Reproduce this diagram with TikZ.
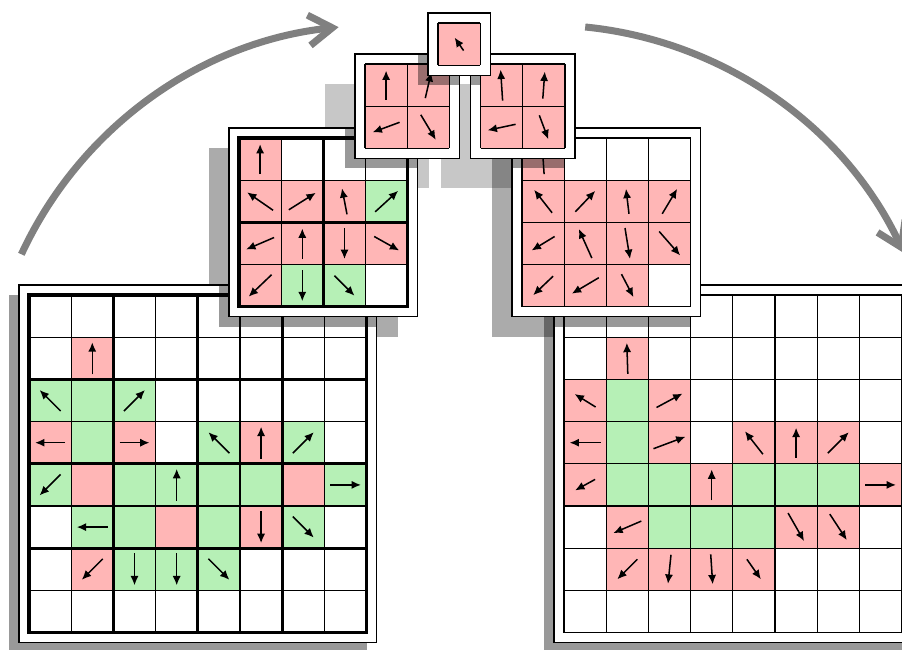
\documentclass[tikz,border=0pt]{standalone}
\usepackage{tikz}
\usetikzlibrary{arrows.meta}
\definecolor{cellpink}{RGB}{255,182,182}
\definecolor{cellgreen}{RGB}{182,240,182}
\definecolor{arcgray}{RGB}{128,128,128}
\newcommand{\cellsz}{42.2}
\tikzset{
  framebox/.style={draw=black, fill=white, line width=1.1pt},
  thinline/.style={draw=black, line width=1.1pt},
  thickline/.style={draw=black, line width=2.6pt},
  vec/.style={-{Latex[length=8pt,width=7pt]}, line width=1.3pt, black},
  shadow1/.style={fill=black, fill opacity=0.4},
  shadow2/.style={fill=black, fill opacity=0.33},
  shadow3/.style={fill=black, fill opacity=0.22},
  shadow4/.style={fill=black, fill opacity=0.15},
  bigarc/.style={draw=arcgray, line width=6pt,
    -{Straight Barb[length=20pt,width=26pt]}},
}
% layer helpers: #1,#2 = top left corner of the cells, #3 = cells per side
\newcommand{\layerframe}[3]{%
  \filldraw[framebox] ({#1-10},{#2-10}) rectangle ++({#3*\cellsz+20},{#3*\cellsz+20});}
\newcommand{\layershadow}[5]{% #4 = height above the surface, #5 = style
  \fill[#5] ({#1-10-10*#4},{#2-10+10*#4}) rectangle ++({#3*\cellsz+20},{#3*\cellsz+20});}
\newcommand{\layercells}[4]{%
  \foreach \gc/\gr in {#4}
    \fill[#3] ({#1+\gc*\cellsz},{#2+\gr*\cellsz}) rectangle ++(\cellsz,\cellsz);}
\newcommand{\layerlines}[3]{%
  \foreach \i in {0,...,#3} {
    \draw[thinline] ({#1+\i*\cellsz},#2) -- ++(0,{#3*\cellsz});
    \draw[thinline] (#1,{#2+\i*\cellsz}) -- ++({#3*\cellsz},0);}}
\newcommand{\layerbold}[4]{%
  \foreach \i in {#4} {
    \draw[thickline] ({#1+\i*\cellsz},#2) -- ++(0,{#3*\cellsz});
    \draw[thickline] (#1,{#2+\i*\cellsz}) -- ++({#3*\cellsz},0);}
  \draw[thickline] (#1,#2) rectangle ++({#3*\cellsz},{#3*\cellsz});}
\newcommand{\layerarrows}[3]{%
  \foreach \gc/\gr/\dx/\dy in {#3}
    \draw[vec] ({#1+(\gc+0.5)*\cellsz-0.5*(\dx)},{#2+(\gr+0.5)*\cellsz-0.5*(\dy)})
      -- ++(\dx,\dy);}

\begin{document}
\begin{tikzpicture}[x=0.3mm, y=-0.3mm]

  \useasboundingbox (0,0) rectangle (902,650);
  \clip (0,0) rectangle (902,650);
  \fill[white] (0,0) rectangle (902,650);

  %% ── Shadows on the ground ──
  \layershadow{29}{295}{8}{1}{shadow1}
  \layershadow{564}{295}{8}{1}{shadow1}
  \layershadow{239}{138}{4}{2}{shadow2}
  \layershadow{522}{138}{4}{2}{shadow2}
  \layershadow{365}{64}{2}{3}{shadow3}
  \layershadow{480.5}{64}{2}{3}{shadow3}
  \layershadow{438}{23}{1}{4}{shadow4}

  %% ── Left input (8x8) ──
  \layerframe{29}{295}{8}
  \layercells{29}{295}{cellpink}{1/1, 0/3, 2/3, 5/3, 1/4, 6/4, 3/5, 5/5, 1/6}
  \layercells{29}{295}{cellgreen}{0/2, 1/2, 2/2, 1/3, 4/3, 6/3, 0/4, 2/4, 3/4,
    4/4, 5/4, 7/4, 1/5, 2/5, 4/5, 6/5, 2/6, 3/6, 4/6}
  \layerlines{29}{295}{8}
  \layerbold{29}{295}{8}{2,4,6}
  \layerarrows{29}{295}{1/1/0/-32, 0/2/-21/-21, 2/2/21/-21, 0/3/-30/0,
    2/3/30/0, 4/3/-21/-21, 5/3/0/-32, 6/3/21/-21, 0/4/-21/21, 3/4/0/-32,
    7/4/31/0, 1/5/-31/0, 5/5/0/32, 6/5/21/21, 1/6/-21/21, 2/6/0/32,
    3/6/0/32, 4/6/21/21}

  %% ── Right output (8x8) ──
  \layerframe{564}{295}{8}
  \layercells{564}{295}{cellpink}{1/1, 0/2, 2/2, 0/3, 2/3, 4/3, 5/3, 6/3,
    0/4, 3/4, 7/4, 1/5, 5/5, 6/5, 1/6, 2/6, 3/6, 4/6}
  \layercells{564}{295}{cellgreen}{1/2, 1/3, 1/4, 2/4, 4/4, 5/4, 6/4,
    2/5, 3/5, 4/5}
  \layerlines{564}{295}{8}
  \layerarrows{564}{295}{1/1/-1/-31, 0/2/-21/-13, 2/2/26/-14, 0/3/-31/0,
    2/3/32/-12, 4/3/-18/-23, 5/3/0/-30, 6/3/21/-21, 0/4/-20/11, 3/4/0/-31,
    7/4/31/0, 1/5/-28/12, 5/5/16/28, 6/5/17/26, 1/6/-20/20, 2/6/-3/29,
    3/6/2/30, 4/6/14/20}

  %% ── Shadows on the 8x8 layers ──
  \begin{scope}
    \clip (19,285) rectangle ++({8*\cellsz+20},{8*\cellsz+20})
          (554,285) rectangle ++({8*\cellsz+20},{8*\cellsz+20});
    \layershadow{239}{138}{4}{1}{shadow1}
    \layershadow{522}{138}{4}{1}{shadow1}
    \layershadow{365}{64}{2}{2}{shadow2}
    \layershadow{480.5}{64}{2}{2}{shadow2}
    \layershadow{438}{23}{1}{3}{shadow3}
  \end{scope}

  %% ── Left 4x4 ──
  \layerframe{239}{138}{4}
  \layercells{239}{138}{cellpink}{0/0, 0/1, 1/1, 2/1, 0/2, 1/2, 2/2, 3/2, 0/3}
  \layercells{239}{138}{cellgreen}{3/1, 1/3, 2/3}
  \layerlines{239}{138}{4}
  \layerbold{239}{138}{4}{2}
  \layerarrows{239}{138}{0/0/0/-30, 0/1/-26/-18, 1/1/27/-17, 2/1/-5/-26,
    3/1/23/-21, 0/2/-28/12, 1/2/0/-30, 2/2/0/31, 3/2/25/14, 0/3/-23/22,
    1/3/0/31, 2/3/20/20}

  %% ── Right 4x4 ──
  \layerframe{522}{138}{4}
  \layercells{522}{138}{cellpink}{0/0, 0/1, 1/1, 2/1, 3/1, 0/2, 1/2, 2/2,
    3/2, 0/3, 1/3, 2/3}
  \layerlines{522}{138}{4}
  \layerarrows{522}{138}{0/0/-2/-30, 0/1/-18/-23, 1/1/20/-21, 2/1/-3/-25,
    3/1/15/-25, 0/2/-23/14, 1/2/-13/-29, 2/2/5/31, 3/2/21/24, 0/3/-20/19,
    1/3/-27/16, 2/3/12/23}

  %% ── Shadows on the 4x4 layers ──
  \begin{scope}
    \clip (229,128) rectangle ++({4*\cellsz+20},{4*\cellsz+20})
          (512,128) rectangle ++({4*\cellsz+20},{4*\cellsz+20});
    \layershadow{365}{64}{2}{1}{shadow1}
    \layershadow{480.5}{64}{2}{1}{shadow1}
    \layershadow{438}{23}{1}{2}{shadow2}
  \end{scope}

  %% ── 2x2 layers ──
  \layerframe{365}{64}{2}
  \layercells{365}{64}{cellpink}{0/0, 1/0, 0/1, 1/1}
  \layerlines{365}{64}{2}
  \layerarrows{365}{64}{0/0/0/-29, 1/0/6/-26, 0/1/-27/10, 1/1/15/25}

  \layerframe{480.5}{64}{2}
  \layercells{480.5}{64}{cellpink}{0/0, 1/0, 0/1, 1/1}
  \layerlines{480.5}{64}{2}
  \layerarrows{480.5}{64}{0/0/-2/-31, 1/0/2/-27, 0/1/-28/6, 1/1/9/24}

  %% ── Shadow on the 2x2 layers ──
  \begin{scope}
    \clip (355,54) rectangle ++({2*\cellsz+20},{2*\cellsz+20})
          (470.5,54) rectangle ++({2*\cellsz+20},{2*\cellsz+20});
    \layershadow{438}{23}{1}{1}{shadow1}
  \end{scope}

  %% ── 1x1 layer ──
  \layerframe{438}{23}{1}
  \layercells{438}{23}{cellpink}{0/0}
  \layerlines{438}{23}{1}
  \layerarrows{438}{23}{0/0/-9/-13}

  %% ── Arcs ──
  \coordinate (liftL) at (21.4,254.3);
  \coordinate (dropR) at (585.2,27);
  \draw[bigarc] (liftL) arc[start angle=204.8, end angle=264, radius=395];
  \draw[bigarc] (dropR) arc[start angle=275.7, end angle=335, radius=395];

\end{tikzpicture}
\end{document}
